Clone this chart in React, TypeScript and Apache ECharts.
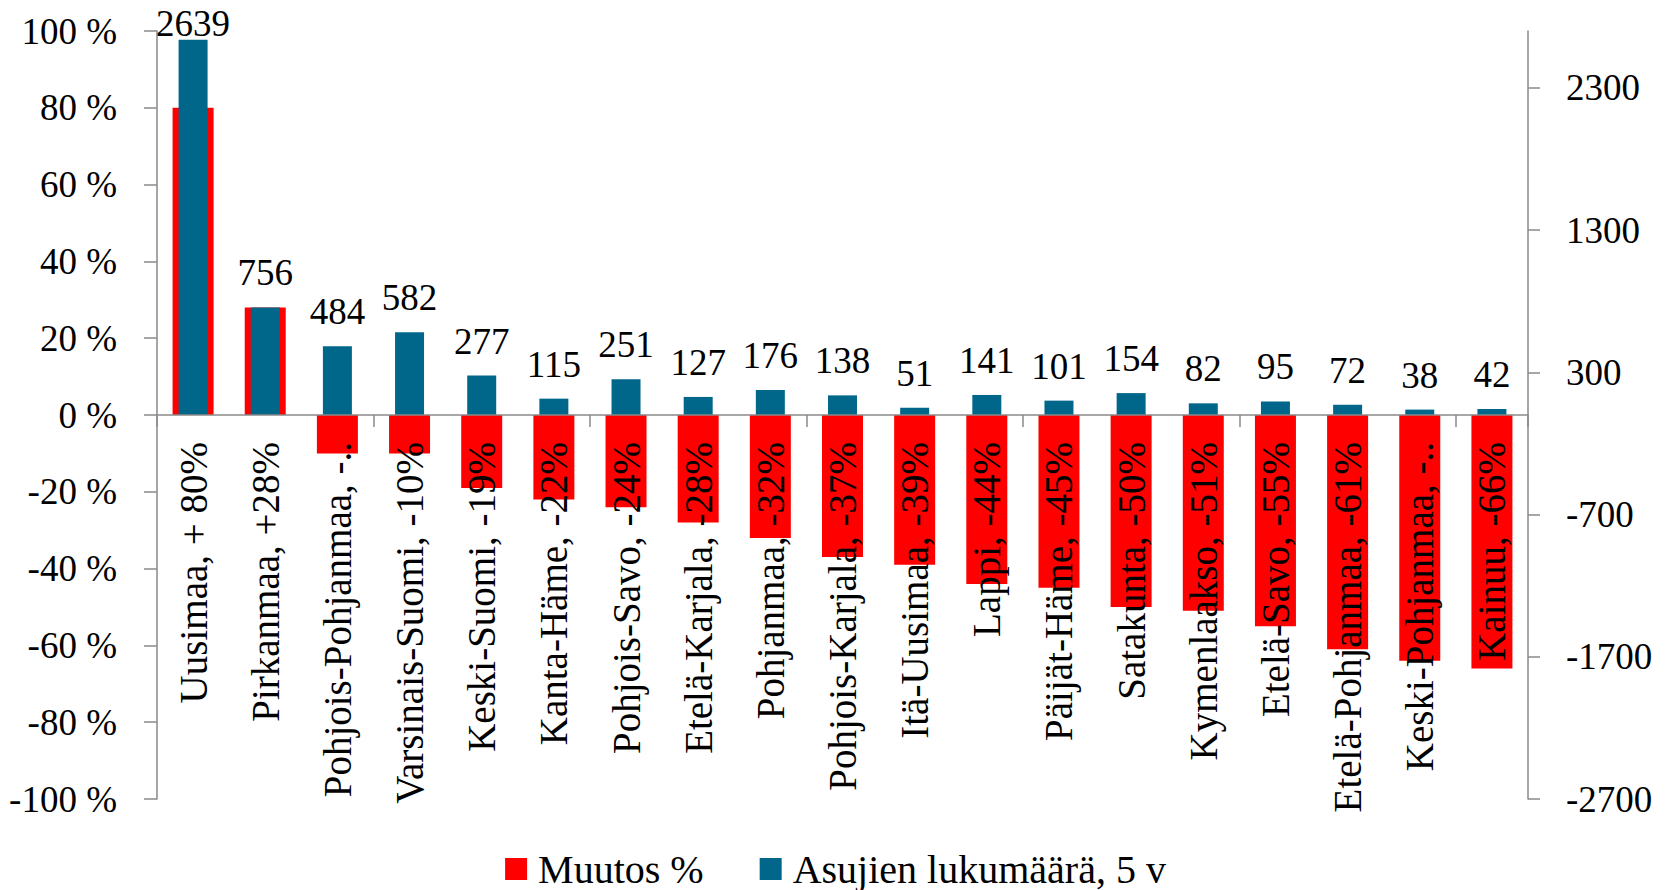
import React, { useEffect, useRef } from "react";
import * as echarts from "echarts";

const categories = [
  "Uusimaa, + 80%",
  "Pirkanmaa, +28%",
  "Pohjois-Pohjanmaa, -..",
  "Varsinais-Suomi, -10%",
  "Keski-Suomi, -19%",
  "Kanta-Häme, -22%",
  "Pohjois-Savo, -24%",
  "Etelä-Karjala, -28%",
  "Pohjanmaa, -32%",
  "Pohjois-Karjala, -37%",
  "Itä-Uusimaa, -39%",
  "Lappi, -44%",
  "Päijät-Häme, -45%",
  "Satakunta, -50%",
  "Kymenlaakso, -51%",
  "Etelä-Savo, -55%",
  "Etelä-Pohjanmaa, -61%",
  "Keski-Pohjanmaa, -..",
  "Kainuu, -66%",
];

const muutosPct = [80, 28, -10, -10, -19, -22, -24, -28, -32, -37, -39, -44, -45, -50, -51, -55, -61, -64, -66];

const asujienLukumaara = [2639, 756, 484, 582, 277, 115, 251, 127, 176, 138, 51, 141, 101, 154, 82, 95, 72, 38, 42];

const rightTickValues = [-2700, -1700, -700, 300, 1300, 2300];

const seriesNames = ["Muutos %", "Asujien lukumäärä, 5 v"];

const FONT = "Liberation Serif";
const AXIS_COLOR = "#8a8a8a";
const RED = "#ff0000";
const BLUE = "#00678a";

export default function App() {
  const ref = useRef<HTMLDivElement>(null);

  useEffect(() => {
    if (!ref.current) return;
    const chart = echarts.init(ref.current, null, { renderer: "svg" });
    const option: any = {
      animation: false,
      backgroundColor: "#ffffff",
      textStyle: { fontFamily: FONT, color: "#000" },
      grid: { left: 157, right: 143, top: 31, bottom: 91, outerBoundsMode: "none" },
      legend: {
        data: seriesNames,
        bottom: -4,
        left: "center",
        icon: "rect",
        itemWidth: 22,
        itemHeight: 22,
        itemGap: 56,
        textStyle: { fontFamily: FONT, fontSize: 40, color: "#000", padding: [0, 0, 0, 6] },
      },
      xAxis: [
        {
          type: "category",
          data: categories,
          z: 10,
          axisLine: { onZero: true, onZeroAxisIndex: 0, lineStyle: { color: AXIS_COLOR, width: 1.5 } },
          axisTick: { show: true, length: 12, inside: false, lineStyle: { color: AXIS_COLOR, width: 1.5 } },
          axisLabel: { show: false },
          splitLine: { show: false },
        },
        {
          type: "category",
          data: categories,
          show: false,
          axisLine: { onZero: false },
        },
      ],
      yAxis: [
        {
          type: "value",
          min: -100,
          max: 100,
          interval: 20,
          position: "left",
          axisLine: { show: true, onZero: false, lineStyle: { color: AXIS_COLOR, width: 1.5 } },
          axisTick: { show: true, length: 13, lineStyle: { color: AXIS_COLOR, width: 1.5 } },
          axisLabel: {
            margin: 40,
            fontSize: 37,
            fontFamily: FONT,
            color: "#000",
            formatter: (v: number) => `${v} %`,
          },
          splitLine: { show: false },
        },
        {
          type: "value",
          min: -2700,
          max: 2700,
          position: "right",
          axisLine: { show: true, onZero: false, lineStyle: { color: AXIS_COLOR, width: 1.5 } },
          axisTick: { show: true, length: 12, customValues: rightTickValues, lineStyle: { color: AXIS_COLOR, width: 1.5 } },
          axisLabel: {
            margin: 38,
            fontSize: 37,
            fontFamily: FONT,
            color: "#000",
            customValues: rightTickValues,
            formatter: (v: number) => String(v),
          },
          splitLine: { show: false },
        },
      ],
      series: [
        {
          name: seriesNames[0],
          type: "bar",
          xAxisIndex: 0,
          yAxisIndex: 0,
          data: muutosPct,
          barWidth: 41,
          itemStyle: { color: RED },
          z: 2,
        },
        {
          name: seriesNames[1],
          type: "bar",
          xAxisIndex: 1,
          yAxisIndex: 1,
          data: asujienLukumaara.map((v, i) => (i === 0 ? { value: v, label: { distance: -2 } } : v)),
          barWidth: 29,
          itemStyle: { color: BLUE },
          z: 3,
          label: {
            show: true,
            position: "top",
            distance: 16,
            fontSize: 37,
            fontFamily: FONT,
            color: "#000",
          },
        },
        {
          name: "categoryLabels",
          type: "custom",
          xAxisIndex: 0,
          yAxisIndex: 0,
          silent: true,
          z: 10,
          data: categories.map((c, i) => [i, 0]),
          encode: { x: 0, y: 1 },
          renderItem: (params: any, api: any) => {
            const idx = api.value(0);
            const pt = api.coord([idx, 0]);
            return {
              type: "text",
              x: pt[0],
              y: pt[1] + 27,
              rotation: Math.PI / 2,
              style: {
                text: categories[idx],
                align: "right",
                verticalAlign: "middle",
                font: `39px "${FONT}"`,
                fill: "#000",
              },
            };
          },
        },
      ],
    };
    chart.setOption(option);
    return () => chart.dispose();
  }, []);

  return (
    <div
      ref={ref}
      style={{ position: "fixed", left: 0, top: 0, width: 1671, height: 890, background: "#fff" }}
    />
  );
}
